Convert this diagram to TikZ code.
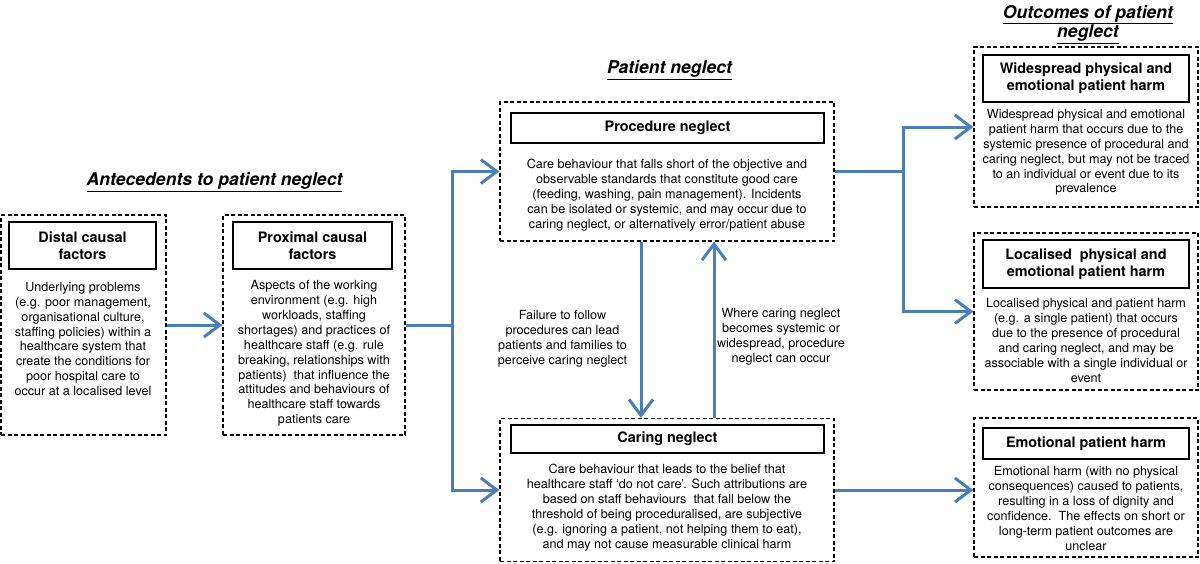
\documentclass[tikz,border=0pt]{standalone}
\usepackage{fontspec}
\setmainfont{TeX Gyre Heros}
\usetikzlibrary{arrows.meta}
\definecolor{arrblue}{RGB}{74,126,187}
\newcommand\mybody{\fontsize{12.6}{14.9}\selectfont}
\newcommand\mytitle{\fontsize{14.4}{17}\selectfont\bfseries}
\newcommand\myhead{\fontsize{17.6}{18}\selectfont\bfseries\itshape}
\tikzset{
  outer/.style={draw, line width=1.2pt, dash pattern=on 4pt off 2.5pt, inner sep=0pt},
  titlebox/.style={draw, line width=1.4pt, inner sep=0pt, align=center, font=\mytitle},
  body/.style={inner sep=0pt, align=center, font=\mybody},
  heading/.style={inner sep=0pt, align=center, font=\myhead},
  conn/.style={draw=arrblue, line width=3pt},
  arr/.style={conn, -{Straight Barb[length=16pt,width=24pt]}}
}
\begin{document}
\begin{tikzpicture}[x=1pt,y=-1pt]
\useasboundingbox (0,0) rectangle (1200,563);
% headings
\node[heading] (hant) at (214.5,182) {\underline{Antecedents to patient neglect}};
\node[heading] (hpat) at (669.5,70) {\underline{Patient neglect}};
\node[heading] (hout) at (1088,24.5) {\underline{Outcomes of patient}\\\underline{neglect}};
% outer boxes
\node[outer, minimum width=165pt, minimum height=220pt] (distal) at (83.5,325) {};
\node[outer, minimum width=182pt, minimum height=220pt] (proximal) at (314,325) {};
\node[outer, minimum width=334pt, minimum height=139pt] (procedure) at (667,171.5) {};
\node[outer, minimum width=334pt, minimum height=143pt] (caring) at (667,490) {};
\node[outer, minimum width=224pt, minimum height=160pt] (wide) at (1086,127) {};
\node[outer, minimum width=224pt, minimum height=157pt] (local) at (1086,311.5) {};
\node[outer, minimum width=224pt, minimum height=139pt] (emo) at (1086,487.5) {};
% title boxes
\node[titlebox, minimum width=147pt, minimum height=47pt] (distalt) at (82.5,245.5) {Distal causal\\factors};
\node[titlebox, minimum width=159pt, minimum height=47pt] (proximalt) at (312.5,245.5) {Proximal causal\\factors};
\node[titlebox, minimum width=313pt, minimum height=30pt] (proceduret) at (667.5,128) {Procedure neglect};
\node[titlebox, minimum width=313pt, minimum height=28pt] (caringt) at (667.5,439) {Caring neglect};
\node[titlebox, minimum width=206pt, minimum height=47pt] (widet) at (1086,78.5) {Widespread physical and\\emotional patient harm};
\node[titlebox, minimum width=206pt, minimum height=48pt] (localt) at (1086,264) {Localised\ \ physical and\\emotional patient harm};
\node[titlebox, minimum width=206pt, minimum height=31pt] (emot) at (1086,443.5) {Emotional patient harm};
% body texts
\node[body] (distalb) at (83,339) {Underlying problems\\(e.g. poor management,\\organisational culture,\\staffing policies) within a\\healthcare system that\\create the conditions for\\poor hospital care to\\occur at a localised level};
\node[body] (proximalb) at (314,353.5) {Aspects of the working\\environment (e.g. high\\workloads, staffing\\shortages) and practices of\\healthcare staff (e.g. rule\\breaking, relationships with\\patients)\ \ that influence the\\attitudes and behaviours of\\healthcare staff towards\\patients care};
\node[body] (procedureb) at (667,195) {Care behaviour that falls short of the objective and\\observable standards that constitute good care\\(feeding, washing, pain management). Incidents\\can be isolated or systemic, and may occur due to\\caring neglect, or alternatively error/patient abuse};
\node[body] (caringb) at (667,507.5) {Care behaviour that leads to the belief that\\healthcare staff ‘do not care’. Such attributions are\\based on staff behaviours\ \ that fall below the\\threshold of being proceduralised, are subjective\\(e.g. ignoring a patient, not helping them to eat),\\and may not cause measurable clinical harm};
\node[body] (wideb) at (1086,152.5) {Widespread physical and emotional\\patient harm that occurs due to the\\systemic presence of procedural and\\caring neglect, but may not be traced\\to an individual or event due to its\\prevalence};
\node[body] (localb) at (1086,340.5) {Localised physical and patient harm\\(e.g. a single patient) that occurs\\due to the presence of procedural\\and caring neglect, and may be\\associable with a single individual or\\event};
\node[body] (emob) at (1086,508.5) {Emotional harm (with no physical\\consequences) caused to patients,\\resulting in a loss of dignity and\\confidence.\ \ The effects on short or\\long-term patient outcomes are\\unclear};
% connector labels
\node[body] (lfail) at (562.5,338.5) {Failure to follow\\procedures can lead\\patients and families to\\perceive caring neglect};
\node[body] (lwhere) at (781,336.5) {Where caring neglect\\becomes systemic or\\widespread, procedure\\neglect can occur};
% connectors
\coordinate (b1) at (452,325);
\coordinate (b2) at (903,171.5);
\draw[arr] (distal.east) -- (proximal.west);
\draw[conn] (proximal.east) -- (b1);
\draw[arr] (b1) |- (procedure.west);
\draw[arr] (b1) |- (caring.west);
\draw[arr] ([xshift=-26pt]procedure.south) -- ([xshift=-26pt]caring.north);
\draw[arr] ([xshift=47pt]caring.north) -- ([xshift=47pt]procedure.south);
\draw[conn] (procedure.east) -- (b2);
\draw[arr] (b2) |- (wide.west);
\draw[arr] (b2) |- (local.west);
\draw[arr] (caring.east) -- (caring.east -| emo.west);
\end{tikzpicture}
\end{document}
